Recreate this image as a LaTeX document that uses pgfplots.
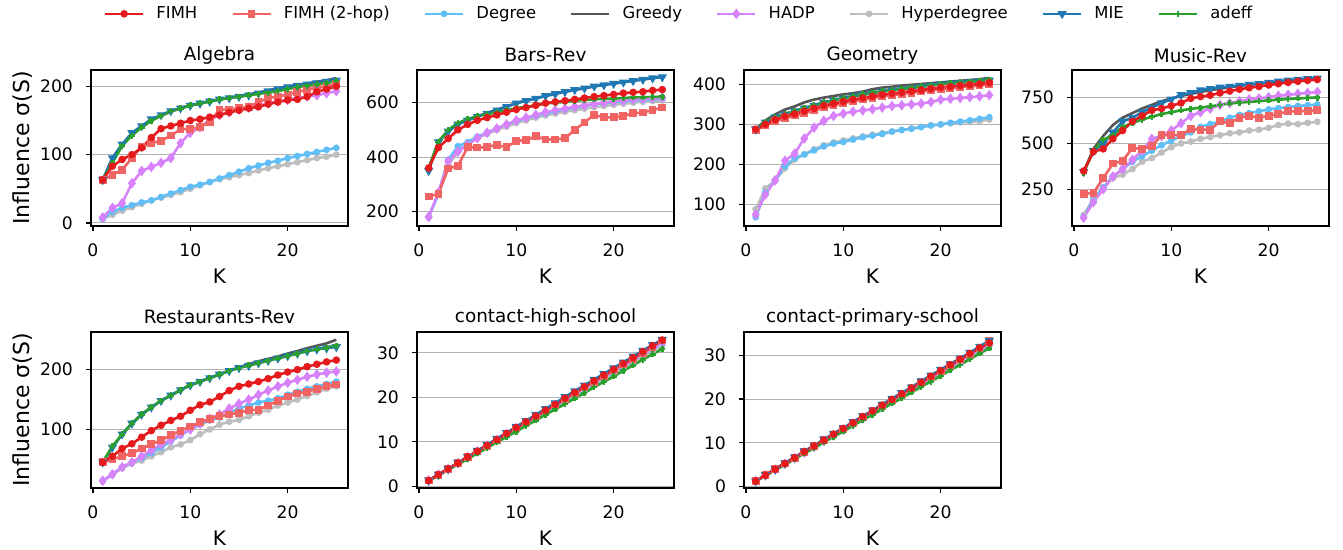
\documentclass[border=0pt]{standalone}
\usepackage{fontspec}
\setmainfont{DejaVu Sans}
\usepackage{pgfplots}
\usepackage{pgfplotstable}
\pgfplotsset{compat=1.18}

\definecolor{cFIMH}{RGB}{228,26,28}
\definecolor{cFIMHtwo}{RGB}{240,100,100}
\definecolor{cDeg}{RGB}{95,190,245}
\definecolor{cGreedy}{RGB}{85,85,85}
\definecolor{cHADP}{RGB}{215,130,250}
\definecolor{cHyper}{RGB}{190,190,190}
\definecolor{cMIE}{RGB}{31,119,180}
\definecolor{cAdeff}{RGB}{44,160,44}

% columns: k, FIMH, FIMH (2-hop), Degree, Greedy, HADP, Hyperdegree, MIE, adeff
\pgfplotstableread{
k fimh fimhtwo deg greedy hadp hyper mie adeff
1 63 63 6 63 8 6 63 63
2 83 70 16 95 22 12 95 88
3 93 78 22 115 29 18 115 113
4 100 95 26 130 58 23 132 128
5 110 112 30 140 76 28 142 140
6 125 117 33 150 82 33 152 150
7 138 120 38 157 88 37 158 157
8 142 128 43 163 95 41 164 164
9 146 137 48 168 117 45 168 168
10 150 138 53 172 132 50 172 172
11 152 140 56 175 140 55 175 175
12 155 148 60 178 151 60 178 178
13 158 166 65 181 158 64 181 181
14 162 166 70 183 162 67 183 183
15 165 168 75 186 166 70 185 185
16 168 170 80 188 169 73 187 187
17 170 177 84 191 172 77 190 189
18 174 183 88 194 175 80 193 191
19 177 185 91 197 178 83 196 193
20 180 188 95 200 180 86 199 196
21 181 192 98 202 183 89 201 199
22 185 195 101 204 185 92 203 201
23 192 198 104 207 187 95 205 203
24 196 200 107 209 190 97 207 205
25 200 203 110 212 193 100 209 208
}\tabAlgebra

\pgfplotstableread{
k fimh fimhtwo deg greedy hadp hyper mie adeff
1 360 255 180 360 180 180 350 360
2 435 265 265 458 270 265 455 455
3 468 358 390 497 385 370 495 500
4 500 368 440 522 420 420 520 525
5 520 436 455 537 445 450 535 540
6 535 435 475 550 470 470 548 550
7 545 437 490 562 490 485 560 558
8 555 445 505 574 505 500 572 565
9 565 436 520 586 520 512 585 572
10 575 460 533 598 535 525 598 580
11 582 462 543 607 545 535 607 585
12 590 477 552 616 555 545 615 590
13 598 465 560 625 565 553 625 597
14 603 465 568 633 572 560 632 600
15 607 469 575 640 578 567 640 603
16 612 500 582 647 585 572 647 607
17 617 527 588 653 590 578 653 610
18 622 555 594 660 595 583 660 612
19 626 546 598 666 600 588 665 614
20 630 546 602 671 605 592 670 615
21 635 551 605 676 608 596 675 617
22 638 561 608 681 612 600 680 619
23 640 564 610 686 614 603 685 620
24 645 573 612 690 616 606 690 621
25 648 582 615 695 618 608 694 622
}\tabBars

\pgfplotstableread{
k fimh fimhtwo deg greedy hadp hyper mie adeff
1 288 285 68 288 75 88 288 288
2 300 297 130 310 125 140 305 305
3 312 308 160 325 160 160 318 318
4 320 315 195 337 209 190 325 326
5 326 322 215 345 227 212 333 333
6 333 328 225 355 265 225 340 341
7 340 335 235 362 292 238 347 348
8 347 342 245 367 309 248 354 355
9 352 348 252 371 321 255 360 361
10 357 353 256 375 327 260 365 366
11 362 358 262 378 332 265 370 371
12 366 362 268 382 335 270 374 375
13 370 366 272 388 338 274 378 379
14 374 370 276 392 342 278 382 383
15 377 373 282 394 346 282 385 386
16 380 376 286 397 348 286 388 389
17 383 379 289 399 350 290 391 392
18 386 382 293 401 352 294 394 395
19 389 385 297 403 356 298 397 398
20 392 388 300 405 362 300 400 401
21 394 390 304 407 364 303 402 403
22 397 393 307 409 366 305 404 405
23 399 395 310 411 368 306 406 407
24 401 397 314 413 370 308 408 409
25 404 400 318 416 373 312 410 412
}\tabGeometry

\pgfplotstableread{
k fimh fimhtwo deg greedy hadp hyper mie adeff
1 350 225 100 345 95 110 345 340
2 455 230 190 470 180 200 460 460
3 470 310 260 540 250 260 500 520
4 525 390 320 600 320 310 560 545
5 570 405 360 640 360 330 620 590
6 620 475 400 665 410 360 640 610
7 650 470 430 690 460 400 670 630
8 680 485 460 710 525 420 695 645
9 690 545 490 730 540 450 720 660
10 705 545 515 745 570 480 740 670
11 720 545 540 758 610 500 765 680
12 745 580 560 770 650 510 775 688
13 755 575 590 780 670 525 790 695
14 762 575 605 790 690 535 798 702
15 775 620 620 798 710 545 805 710
16 785 610 640 806 720 555 810 718
17 795 640 655 813 730 560 815 722
18 803 650 665 820 740 570 820 726
19 810 640 675 826 745 575 825 730
20 818 650 685 832 752 585 832 734
21 825 660 692 838 760 600 838 738
22 832 675 698 843 765 608 843 742
23 838 675 704 848 770 605 848 745
24 843 678 708 852 775 612 852 748
25 848 680 712 857 780 618 855 750
}\tabMusic

\pgfplotstableread{
k fimh fimhtwo deg greedy hadp hyper mie adeff
1 45 45 14 45 14 14 45 45
2 55 50 25 70 25 24 70 72
3 68 55 37 92 37 35 92 92
4 76 60 45 110 45 43 110 110
5 87 68 52 125 55 48 125 125
6 98 75 60 137 65 55 137 137
7 107 82 70 148 75 62 148 148
8 115 90 80 157 82 70 157 157
9 122 98 90 166 92 75 166 166
10 132 105 100 174 100 82 174 174
11 141 112 108 180 110 92 180 180
12 146 118 115 186 118 100 186 186
13 155 122 120 192 125 108 192 192
14 165 125 128 198 135 113 198 198
15 172 128 135 204 143 116 203 203
16 176 132 140 209 150 122 207 207
17 180 133 145 214 158 128 211 211
18 185 140 148 218 165 133 215 215
19 191 148 152 222 172 140 219 219
20 196 155 158 227 178 145 223 223
21 200 160 163 231 183 150 227 227
22 205 163 168 236 188 156 231 231
23 209 168 172 240 192 162 234 234
24 213 172 176 244 195 168 236 237
25 216 175 180 250 197 172 238 240
}\tabRestaurants

\pgfplotstableread{
k fimh fimhtwo deg greedy hadp hyper mie adeff
1 1.3 1.3 1.3 1.3 1.3 1.3 1.3 1.2
2 2.6 2.6 2.6 2.6 2.6 2.6 2.6 2.4
3 3.9 3.9 3.9 3.9 3.9 3.8 3.9 3.7
4 5.2 5.2 5.2 5.2 5.2 5.1 5.3 4.9
5 6.6 6.5 6.5 6.6 6.5 6.4 6.6 6.1
6 7.9 7.8 7.8 7.9 7.8 7.6 8.0 7.4
7 9.2 9.1 9.0 9.2 9.1 8.9 9.3 8.6
8 10.5 10.4 10.3 10.6 10.4 10.2 10.7 9.9
9 11.9 11.7 11.6 11.9 11.7 11.4 12.0 11.1
10 13.2 13.0 12.9 13.2 13.0 12.7 13.4 12.3
11 14.5 14.4 14.2 14.6 14.3 14.0 14.7 13.6
12 15.8 15.7 15.5 15.9 15.6 15.2 16.1 14.8
13 17.1 17.0 16.8 17.2 16.9 16.5 17.4 16.1
14 18.4 18.3 18.1 18.5 18.2 17.8 18.7 17.3
15 19.8 19.6 19.3 19.9 19.5 19.0 20.1 18.5
16 21.1 20.9 20.6 21.2 20.7 20.3 21.4 19.8
17 22.4 22.2 21.9 22.5 22.0 21.6 22.7 21.0
18 23.7 23.5 23.2 23.8 23.3 22.8 24.0 22.3
19 25.0 24.8 24.5 25.1 24.6 24.1 25.3 23.5
20 26.3 26.1 25.8 26.4 25.9 25.4 26.6 24.7
21 27.6 27.4 27.0 27.7 27.1 26.6 27.9 26.0
22 28.9 28.7 28.3 29.0 28.4 27.9 29.2 27.2
23 30.3 30.0 29.6 30.3 29.7 29.2 30.5 28.5
24 31.6 31.4 30.9 31.6 31.0 30.4 31.8 29.7
25 32.9 32.8 32.2 32.9 32.3 31.7 33.0 30.9
}\tabHigh

\pgfplotstableread{
k fimh fimhtwo deg greedy hadp hyper mie adeff
1 1.3 1.3 1.3 1.3 1.3 1.3 1.3 1.2
2 2.6 2.6 2.6 2.6 2.6 2.6 2.7 2.5
3 4.0 4.0 3.9 4.0 3.9 3.9 4.0 3.8
4 5.3 5.3 5.2 5.3 5.2 5.1 5.4 5.0
5 6.6 6.6 6.5 6.6 6.5 6.4 6.7 6.3
6 8.0 7.9 7.8 8.0 7.8 7.7 8.1 7.6
7 9.3 9.3 9.1 9.3 9.1 9.0 9.4 8.8
8 10.6 10.6 10.4 10.6 10.4 10.3 10.8 10.1
9 12.0 11.9 11.7 12.0 11.7 11.5 12.1 11.4
10 13.3 13.2 13.0 13.3 13.0 12.8 13.4 12.6
11 14.6 14.6 14.3 14.6 14.3 14.1 14.8 13.9
12 16.0 15.9 15.6 16.0 15.6 15.4 16.1 15.2
13 17.3 17.2 16.9 17.3 16.9 16.7 17.4 16.4
14 18.6 18.5 18.2 18.6 18.2 17.9 18.8 17.7
15 19.9 19.8 19.5 19.9 19.5 19.2 20.1 19.0
16 21.2 21.2 20.8 21.3 20.8 20.5 21.4 20.2
17 22.5 22.5 22.1 22.6 22.1 21.8 22.7 21.5
18 23.8 23.8 23.4 23.9 23.4 23.1 24.1 22.8
19 25.2 25.1 24.7 25.2 24.7 24.3 25.4 24.0
20 26.5 26.4 26.0 26.5 26.0 25.6 26.7 25.3
21 27.8 27.7 27.3 27.8 27.3 26.9 28.0 26.6
22 29.1 29.0 28.6 29.1 28.6 28.2 29.3 27.8
23 30.4 30.3 29.9 30.4 29.9 29.5 30.6 29.1
24 31.7 31.6 31.2 31.7 31.2 30.7 32.0 30.4
25 32.8 33.2 32.5 33.0 32.5 32.0 33.3 31.6
}\tabPrimary

\pgfplotsset{
  lFIMH/.style={color=cFIMH, line width=1.3pt, mark=*, mark size=1.2pt, mark options={solid}},
  lFIMHtwo/.style={color=cFIMHtwo, line width=1.3pt, mark=square*, mark size=1.3pt, mark options={solid}},
  lDeg/.style={color=cDeg, line width=1.3pt, mark=*, mark size=1pt, mark options={solid}},
  lGreedy/.style={color=cGreedy, line width=1.3pt, no marks},
  lHADP/.style={color=cHADP, line width=1.3pt, mark=diamond*, mark size=1.6pt, mark options={solid}},
  lHyper/.style={color=cHyper, line width=1.3pt, mark=*, mark size=1pt, mark options={solid}},
  lMIE/.style={color=cMIE, line width=1.3pt, mark=triangle*, mark size=1.4pt, mark options={solid, rotate=180}},
  lAdeff/.style={color=cAdeff, line width=1.3pt, mark=+, mark size=1.5pt, mark options={solid}},
  panel/.style={
    scale only axis, width=128.5pt, height=78pt, anchor=south west,
    xmin=-0.2, xmax=26.2, xtick={0,10,20},
    tick pos=left, tick align=outside, major tick length=2.5pt,
    axis line style={line width=0.6pt},
    tick style={black, line width=0.6pt},
    ymajorgrids, grid style={color=black!30, line width=0.5pt},
    tick label style={font=\fontsize{8.6}{10}\selectfont},
    xticklabel style={yshift=-3pt},
    yticklabel style={xshift=-3pt},
    /pgf/number format/assume math mode=true,
    /pgf/number format/1000 sep={},
    scaled ticks=false,
    every axis title shift=0pt,
    title style={font=\fontsize{9.2}{11}\selectfont, at={(axis description cs:0.5,1.095)}, anchor=center},
    xlabel={K},
    xlabel style={font=\fontsize{10}{12}\selectfont, at={(axis description cs:0.5,-0.32)}, anchor=center},
    ylabel style={font=\fontsize{11}{13}\selectfont, at={(axis description cs:-0.268,0.5)}, anchor=center},
  },
}

\newcommand{\allseries}[1]{%
  \addplot[lHyper, forget plot] table[x=k, y=hyper] {#1};
  \addplot[lDeg, forget plot] table[x=k, y=deg] {#1};
  \addplot[lHADP, forget plot] table[x=k, y=hadp] {#1};
  \addplot[lFIMHtwo, forget plot] table[x=k, y=fimhtwo] {#1};
  \addplot[lGreedy, forget plot] table[x=k, y=greedy] {#1};
  \addplot[lMIE, forget plot] table[x=k, y=mie] {#1};
  \addplot[lAdeff, forget plot] table[x=k, y=adeff] {#1};
  \addplot[lFIMH, forget plot] table[x=k, y=fimh] {#1};
}

\begin{document}
\begin{tikzpicture}
\path[use as bounding box] (0pt,0pt) rectangle (671.5pt,275pt);

\begin{axis}[panel, at={(45.5pt,162pt)}, title={Algebra},
  ylabel={Influence σ(S)}, ymin=-4.5, ymax=224, ytick={0,100,200},
  legend columns=8,
  legend style={draw=none, fill=none, at={(axis description cs:2.292,1.36)}, anchor=center,
    font=\fontsize{8.2}{10}\selectfont,
    /tikz/every even column/.append style={column sep=15pt}},
  legend image code/.code={\draw[mark repeat=2, mark phase=2, #1] plot coordinates {(0pt,0pt) (9.5pt,0pt) (19pt,0pt)}; \path (23pt,0pt);}]
\allseries{\tabAlgebra}
\addlegendimage{lFIMH}\addlegendentry{FIMH}
\addlegendimage{lFIMHtwo}\addlegendentry{FIMH (2-hop)}
\addlegendimage{lDeg}\addlegendentry{Degree}
\addlegendimage{lGreedy}\addlegendentry{Greedy}
\addlegendimage{lHADP}\addlegendentry{HADP}
\addlegendimage{lHyper}\addlegendentry{Hyperdegree}
\addlegendimage{lMIE}\addlegendentry{MIE}
\addlegendimage{lAdeff}\addlegendentry{adeff}
\end{axis}

\begin{axis}[panel, at={(208.5pt,162pt)}, title={Bars-Rev},
  ymin=147, ymax=720, ytick={200,400,600}]
\allseries{\tabBars}
\end{axis}

\begin{axis}[panel, at={(372pt,162pt)}, title={Geometry},
  ymin=46, ymax=436, ytick={100,200,300,400}]
\allseries{\tabGeometry}
\end{axis}

\begin{axis}[panel, at={(536pt,162pt)}, title={Music-Rev},
  ymin=50, ymax=900, ytick={250,500,750}]
\allseries{\tabMusic}
\end{axis}

\begin{axis}[panel, at={(45.5pt,31pt)}, title={Restaurants-Rev},
  ylabel={Influence σ(S)}, ymin=2, ymax=263, ytick={100,200}]
\allseries{\tabRestaurants}
\end{axis}

\begin{axis}[panel, at={(208.5pt,31pt)}, title={contact-high-school},
  ymin=-0.4, ymax=34.7, ytick={0,10,20,30}]
\allseries{\tabHigh}
\end{axis}

\begin{axis}[panel, at={(372pt,31pt)}, title={contact-primary-school},
  ymin=-0.3, ymax=35.3, ytick={0,10,20,30}]
\allseries{\tabPrimary}
\end{axis}
\end{tikzpicture}
\end{document}
